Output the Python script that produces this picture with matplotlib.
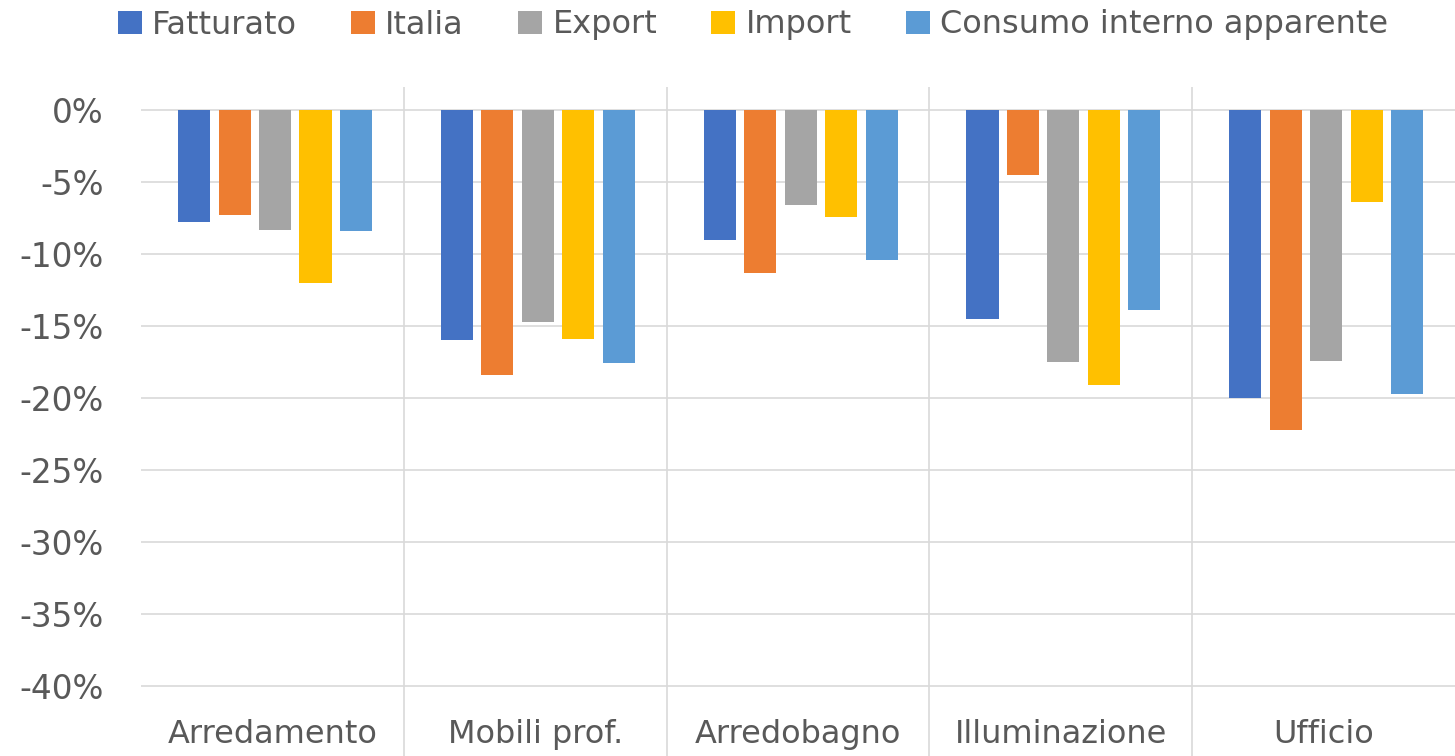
import numpy as np
import matplotlib
matplotlib.use('Agg')
import matplotlib.pyplot as plt
from matplotlib.patches import Patch

# Dati
categorie = ['Arredamento', 'Mobili prof.', 'Arredobagno', 'Illuminazione', 'Ufficio']
serie = ['Fatturato', 'Italia', 'Export', 'Import', 'Consumo interno apparente']
fatturato = [-7.8, -16.0, -9.0, -14.5, -20.0]
italia = [-7.3, -18.4, -11.3, -4.5, -22.2]
export = [-8.3, -14.7, -6.6, -17.5, -17.4]
import_ = [-12.0, -15.9, -7.4, -19.1, -6.4]
consumo = [-8.4, -17.6, -10.4, -13.9, -19.7]
yticks = [0, -5, -10, -15, -20, -25, -30, -35, -40]
ytick_labels = ['0%', '-5%', '-10%', '-15%', '-20%', '-25%', '-30%', '-35%', '-40%']

valori = [fatturato, italia, export, import_, consumo]
colori = ['#4472C4', '#ED7D31', '#A5A5A5', '#FFC000', '#5B9BD5']
testo = '#595959'
griglia = '#D9D9D9'

plt.rcParams['font.family'] = ['DejaVu Sans']

W, H = 1455, 756
fig = plt.figure(figsize=(W / 100, H / 100), dpi=100)
ax = fig.add_axes([141 / W, 0, 1314 / W, (H - 87) / H])

# gruppi leggermente spostati a destra come nel grafico originale
x = np.arange(len(categorie))
larghezza = 0.122
passo = 0.154
for i, (nome, vals, col) in enumerate(zip(serie, valori, colori)):
    ax.bar(x + 0.01 + (i - 2) * passo, vals, larghezza, color=col, label=nome, zorder=3)

ax.set_xlim(-0.5, len(categorie) - 0.5)
ax.set_ylim(-44.86, 1.6)
ax.set_yticks(yticks)
ax.set_yticklabels(ytick_labels, fontsize=23.5, color=testo)
ax.tick_params(axis='y', length=0, pad=27)
ax.set_xticks([])

for v in yticks:
    ax.axhline(v, color=griglia, lw=1.2, zorder=1)
for s in np.arange(0.5, len(categorie) - 0.5):
    ax.axvline(s, color=griglia, lw=1.2, zorder=1)

for sp in ax.spines.values():
    sp.set_visible(False)

for xi, cat in zip(x, categorie):
    ax.text(xi, -43.96, cat, ha='center', va='baseline', fontsize=23, color=testo)

# Legenda
handles = [Patch(facecolor=c, label=n) for n, c in zip(serie, colori)]
fig.legend(handles=handles, loc='center', bbox_to_anchor=(753 / W, 1 - 25 / H),
           ncol=5, frameon=False, fontsize=23, labelcolor=testo,
           handlelength=0.75, handleheight=0.75, handletextpad=0.32,
           columnspacing=1.7, borderpad=0, borderaxespad=0)

fig.savefig('out.png', dpi=100)
